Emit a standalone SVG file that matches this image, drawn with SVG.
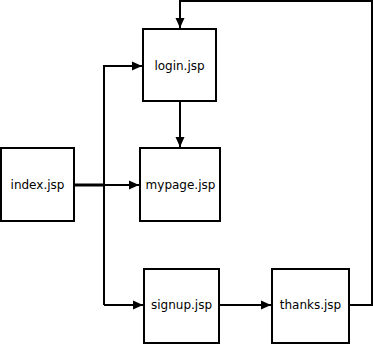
<svg xmlns="http://www.w3.org/2000/svg" width="373" height="345" viewBox="0 0 373 345">
  <style>
    .box { fill: #fff; stroke: #000; stroke-width: 2; }
    .lbl { font-family: "DejaVu Sans", sans-serif; font-size: 12px; fill: #000; text-anchor: middle; dominant-baseline: central; }
    .wire { fill: none; stroke: #000; stroke-width: 2; }
  </style>
  <defs>
    <marker id="arrow" markerUnits="userSpaceOnUse" markerWidth="11" markerHeight="10" refX="10" refY="5" orient="auto">
      <path d="M0,0.5 L10,5 L0,9.5 Z" fill="#000"/>
    </marker>
  </defs>
  <rect width="373" height="345" fill="#fff"/>
  <g id="connectors">
    <path class="wire" d="M349,305 H372 V1 H180 V28" marker-end="url(#arrow)"/>
    <path class="wire" d="M180,102 V147" marker-end="url(#arrow)"/>
    <path class="wire" d="M75,185 H139" marker-end="url(#arrow)"/>
    <path class="wire" d="M75,185 H104" style="stroke-width:3"/>
    <path class="wire" d="M104,305 V66 H142" marker-end="url(#arrow)"/>
    <path class="wire" d="M104,305 H143" marker-end="url(#arrow)"/>
    <path class="wire" d="M220,305 H271" marker-end="url(#arrow)"/>
  </g>
  <g id="login">
    <rect class="box" x="143" y="29" width="73" height="72"/>
    <text class="lbl" x="179.5" y="66">login.jsp</text>
  </g>
  <g id="index">
    <rect class="box" x="1" y="148" width="73" height="73"/>
    <text class="lbl" x="37.5" y="185">index.jsp</text>
  </g>
  <g id="mypage">
    <rect class="box" x="140" y="148" width="80" height="73"/>
    <text class="lbl" x="180.5" y="185">mypage.jsp</text>
  </g>
  <g id="signup">
    <rect class="box" x="144" y="269" width="75" height="74"/>
    <text class="lbl" x="181.5" y="305">signup.jsp</text>
  </g>
  <g id="thanks">
    <rect class="box" x="272" y="269" width="77" height="74"/>
    <text class="lbl" x="310.5" y="305">thanks.jsp</text>
  </g>
</svg>
